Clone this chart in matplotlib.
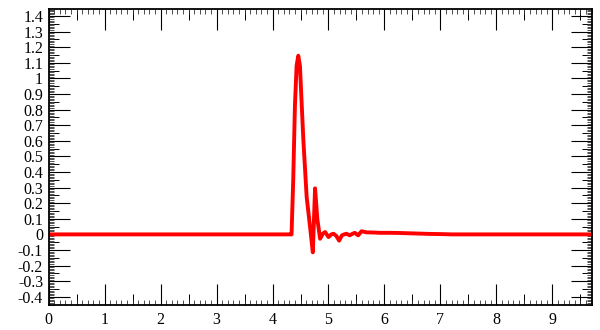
import matplotlib
matplotlib.use("Agg")
import matplotlib.pyplot as plt
from matplotlib.ticker import MultipleLocator, FixedLocator, NullFormatter

# Signal trace
time = [0.0, 4.30, 4.34, 4.37, 4.40, 4.43, 4.46, 4.49, 4.55, 4.61, 4.67, 4.72,
        4.76, 4.80, 4.85, 4.90, 4.94, 5.00, 5.05, 5.09, 5.14, 5.19, 5.24, 5.28,
        5.32, 5.38, 5.43, 5.47, 5.53, 5.59, 5.68, 5.80, 5.92, 6.10, 6.27, 6.45,
        6.63, 6.80, 7.00, 7.20, 7.40, 8.50, 9.75]
amplitude = [0.0, 0.0, 0.0, 0.35, 0.82, 1.08, 1.145, 1.08, 0.61, 0.24, 0.05, -0.115,
             0.295, 0.10, -0.028, 0.005, 0.015, -0.017, 0.0, 0.004, -0.01, -0.04, -0.006, 0.0,
             0.004, -0.006, 0.004, 0.01, -0.006, 0.02, 0.013, 0.012, 0.01, 0.01, 0.009, 0.007,
             0.005, 0.003, 0.002, 0.0, 0.0, 0.0, 0.0]

x_ticks = [0, 1, 2, 3, 4, 5, 6, 7, 8, 9]
y_ticks = [-0.4, -0.3, -0.2, -0.1, 0.0, 0.1, 0.2, 0.3, 0.4, 0.5, 0.6, 0.7,
           0.8, 0.9, 1.0, 1.1, 1.2, 1.3, 1.4]
y_tick_labels = ['-0.4', '-0.3', '-0.2', '-0.1', '0', '0.1', '0.2', '0.3', '0.4',
                 '0.5', '0.6', '0.7', '0.8', '0.9', '1', '1.1', '1.2', '1.3', '1.4']

plt.rcParams['font.family'] = ['Liberation Serif', 'DejaVu Serif']
plt.rcParams['axes.unicode_minus'] = False

PX = 72 / 100.0  # points per pixel

fig = plt.figure(figsize=(6, 3.3), dpi=100)
ax = fig.add_axes([0.081, 0.076, 0.905, 0.897])

ax.plot(time, amplitude, color='#ff0000', lw=2.8, solid_joinstyle='round')

ax.set_xlim(0, 9.7)
ax.set_ylim(-0.452, 1.445)

ax.xaxis.set_major_locator(FixedLocator(x_ticks))
ax.set_xticklabels([str(v) for v in x_ticks])
ax.yaxis.set_major_locator(FixedLocator(y_ticks))
ax.set_yticklabels(y_tick_labels)
ax.xaxis.set_minor_locator(MultipleLocator(0.1))
ax.yaxis.set_minor_locator(MultipleLocator(0.01))

ax.tick_params(axis='both', which='major', direction='in', length=21 * PX, width=0.8,
               top=True, right=True, labelsize=11.5, color='black')
ax.tick_params(axis='both', which='minor', direction='in', length=5 * PX, width=0.6,
               top=True, right=True, color='#333333')
ax.tick_params(axis='x', which='major', pad=5)
ax.tick_params(axis='y', which='major', pad=4)

# medium ticks
xmed = [v + 0.5 for v in x_ticks]
ymed = [round(v + 0.05, 2) for v in y_ticks]
for loc in ['bottom', 'top']:
    sx = ax.secondary_xaxis(loc)
    sx.xaxis.set_major_locator(FixedLocator(xmed))
    sx.xaxis.set_major_formatter(NullFormatter())
    sx.tick_params(direction='in', length=11 * PX, width=0.7)
    for s in sx.spines.values():
        s.set_visible(False)
for loc in ['left', 'right']:
    sy = ax.secondary_yaxis(loc)
    sy.yaxis.set_major_locator(FixedLocator(ymed))
    sy.yaxis.set_major_formatter(NullFormatter())
    sy.tick_params(direction='in', length=10 * PX, width=0.7)
    for s in sy.spines.values():
        s.set_visible(False)

for s in ax.spines.values():
    s.set_linewidth(1.3)

fig.savefig('out.png', dpi=100)
